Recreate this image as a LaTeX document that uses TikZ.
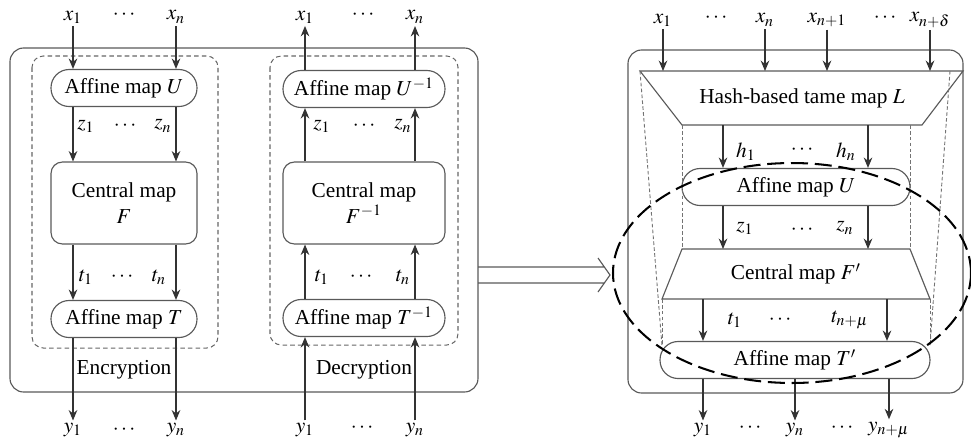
\documentclass[tikz,border=0pt]{standalone}
\usepackage{mathptmx}
\usepackage{fontspec}
\setmainfont{Liberation Serif}
\usetikzlibrary{arrows.meta}

\begin{document}
\begin{tikzpicture}[x=0.0155cm, y=-0.0155cm, >={Stealth[length=4.6pt,width=3.8pt]},
  font=\fontsize{9.4}{11.5}\selectfont,
  frame/.style={draw=black!65, line width=0.5pt, rounded corners=6pt},
  group/.style={draw=black!60, line width=0.45pt, dash pattern=on 2pt off 1.4pt, rounded corners=5pt},
  affine/.style={draw=black!65, line width=0.5pt, rounded corners=8pt, minimum height=0.574cm, inner sep=0pt},
  central/.style={draw=black!65, line width=0.5pt, rounded corners=5pt, minimum height=1.27cm, inner sep=0pt, align=center},
  flow/.style={->, draw=black!80, line width=0.5pt},
  guide/.style={draw=black!55, line width=0.4pt, dash pattern=on 1.6pt off 1pt},
  ring/.style={draw=black, line width=0.9pt, dash pattern=on 7.5pt off 3pt},
  lbl/.style={inner sep=1pt}]

\useasboundingbox (0,0) rectangle (971,444);

% --- Left panel: encryption and decryption ---
\draw[frame] (10,48) rectangle (478,392);
\draw[group] (32,56) rectangle (218,348);
\draw[group] (270,56) rectangle (458,345);

\node[affine, minimum width=2.263cm] (encU) at (124,88) {Affine map $U$};
\node[central, minimum width=2.263cm] (encF) at (124,203) {Central map\\$F$};
\node[affine, minimum width=2.263cm] (encT) at (124,319) {Affine map $T$};

\node[affine, minimum width=2.511cm] (decU) at (364,89) {Affine map $U^{-1}$};
\node[central, minimum width=2.511cm] (decF) at (364,203) {Central map\\$F^{-1}$};
\node[affine, minimum width=2.511cm] (decT) at (364,318) {Affine map $T^{-1}$};

\node (encLabel) at (124,370) {Encryption};
\node (decLabel) at (364,370) {Decryption};

% inputs / outputs, encryption
\node[lbl] (ex1) at (73,17) {$x_1$};
\node[lbl] (exd) at (124,15) {$\cdots$};
\node[lbl] (exn) at (176,17) {$x_n$};
\node[lbl] (ez1) at (86,126) {$z_1$};
\node[lbl] (ezd) at (125,126) {$\cdots$};
\node[lbl] (ezn) at (163,126) {$z_n$};
\node[lbl] (et1) at (86,277) {$t_1$};
\node[lbl] (etd) at (122,277) {$\cdots$};
\node[lbl] (etn) at (159,277) {$t_n$};
\node[lbl] (ey1) at (73,430) {$y_1$};
\node[lbl] (eyd) at (124,430) {$\cdots$};
\node[lbl] (eyn) at (176,430) {$y_n$};

\draw[flow] (ex1) -- (ex1 |- encU.north);
\draw[flow] (exn) -- (exn |- encU.north);
\draw[flow] (encU.south -| ex1) -- (encF.north -| ex1);
\draw[flow] (encU.south -| exn) -- (encF.north -| exn);
\draw[flow] (encF.south -| ex1) -- (encT.north -| ex1);
\draw[flow] (encF.south -| exn) -- (encT.north -| exn);
\draw[flow] (encT.south -| ey1) -- (ey1);
\draw[flow] (encT.south -| eyn) -- (eyn);

% inputs / outputs, decryption
\node[lbl] (dx1) at (305,17) {$x_1$};
\node[lbl] (dxd) at (363,15) {$\cdots$};
\node[lbl] (dxn) at (415,17) {$x_n$};
\node[lbl] (dz1) at (322,126) {$z_1$};
\node[lbl] (dzd) at (364,126) {$\cdots$};
\node[lbl] (dzn) at (403,126) {$z_n$};
\node[lbl] (dt1) at (322,277) {$t_1$};
\node[lbl] (dtd) at (361,277) {$\cdots$};
\node[lbl] (dtn) at (403,277) {$t_n$};
\node[lbl] (dy1) at (305,430) {$y_1$};
\node[lbl] (dyd) at (362,428) {$\cdots$};
\node[lbl] (dyn) at (415,430) {$y_n$};

\draw[flow] (decU.north -| dx1) -- (dx1);
\draw[flow] (decU.north -| dxn) -- (dxn);
\draw[flow] (decF.north -| dx1) -- (decU.south -| dx1);
\draw[flow] (decF.north -| dxn) -- (decU.south -| dxn);
\draw[flow] (decT.north -| dx1) -- (decF.south -| dx1);
\draw[flow] (decT.north -| dxn) -- (decF.south -| dxn);
\draw[flow] (dy1) -- (dy1 |- decT.south);
\draw[flow] (dyn) -- (dyn |- decT.south);

% --- Hollow arrow between panels ---
\draw[draw=black!65, line width=0.5pt] (478,267) -- (604,267) (478,283) -- (604,283)
  (598,258) -- (610,275) -- (598,292);

% --- Right panel ---
\draw[frame] (628,50) rectangle (963,393);

\coordinate (L1) at (640,71);
\coordinate (L2) at (963,71);
\coordinate (L3) at (922,125);
\coordinate (L4) at (682,125);
\coordinate (C1) at (682,249);
\coordinate (C2) at (910,249);
\coordinate (C3) at (930,299);
\coordinate (C4) at (662,299);
\coordinate (G1) at (950,71);
\coordinate (P1) at (662,346);
\coordinate (P2) at (930,346);

\draw[draw=black!65, line width=0.5pt] (L1) -- (L2) -- (L3) -- (L4) -- cycle;
\draw[draw=black!65, line width=0.5pt] (C1) -- (C2) -- (C3) -- (C4) -- cycle;
\node (L) at (802,98) {Hash-based tame map $L$};
\node (C) at (796,274) {Central map $F'$};
\node[affine, minimum width=3.534cm] (rU) at (796,187) {Affine map $U$};
\node[affine, minimum width=4.185cm, fill=white] (rT) at (795,360) {Affine map $T'$};

% perspective guides
\draw[guide] (L1) -- (P1) (G1) -- (P2);
\draw[guide] (L4) -- (C1) (C2 |- L3) -- (C2);
\draw[guide] (C4) -- (P1) (C3) -- (P2);

% inputs
\node[lbl] (rx1) at (663,20) {$x_1$};
\node[lbl] (rxd1) at (716,18) {$\cdots$};
\node[lbl] (rxn) at (765,20) {$x_n$};
\node[lbl] (rxm) at (827,20) {$x_{n+1}$};
\node[lbl] (rxd2) at (885,18) {$\cdots$};
\node[lbl] (rxe) at (930,20) {$x_{n+\delta}$};
\draw[flow] (rx1) -- (rx1 |- L1);
\draw[flow] (rxn) -- (rxn |- L1);
\draw[flow] (rxm) -- (rxm |- L1);
\draw[flow] (rxe) -- (rxe |- L1);

% hash outputs and affine layer
\coordinate (h1s) at (723,125);
\coordinate (hns) at (868,125);
\node[lbl] (rh1) at (746,152) {$h_1$};
\node[lbl] (rhd) at (802,150) {$\cdots$};
\node[lbl] (rhn) at (846,152) {$h_n$};
\draw[flow] (h1s) -- (h1s |- rU.north);
\draw[flow] (hns) -- (hns |- rU.north);

\node[lbl] (rz1) at (745,228) {$z_1$};
\node[lbl] (rzd) at (802,230) {$\cdots$};
\node[lbl] (rzn) at (845,228) {$z_n$};
\draw[flow] (rU.south -| h1s) -- (h1s |- C1);
\draw[flow] (rU.south -| hns) -- (hns |- C1);

% central map outputs
\coordinate (t1s) at (703,299);
\coordinate (tns) at (887,299);
\node[lbl] (rt1) at (735,320) {$t_1$};
\node[lbl] (rtd) at (780,320) {$\cdots$};
\node[lbl] (rtn) at (850,320) {$t_{n+\mu}$};
\draw[flow] (t1s) -- (t1s |- rT.north);
\draw[flow] (tns) -- (tns |- rT.north);

% outputs
\node[lbl] (ry1) at (703,430) {$y_1$};
\node[lbl] (ryd1) at (750,428) {$\cdots$};
\node[lbl] (ryn) at (795,430) {$y_n$};
\node[lbl] (ryd2) at (842,428) {$\cdots$};
\node[lbl] (rym) at (889,430) {$y_{n+\mu}$};
\draw[flow] (rT.south -| ry1) -- (ry1);
\draw[flow] (rT.south -| ryn) -- (ryn);
\draw[flow] (rT.south -| rym) -- (rym);

% dashed ellipse around the core layers
\draw[ring] (792,273) ellipse [x radius=2.775cm, y radius=1.705cm];

\end{tikzpicture}
\end{document}
